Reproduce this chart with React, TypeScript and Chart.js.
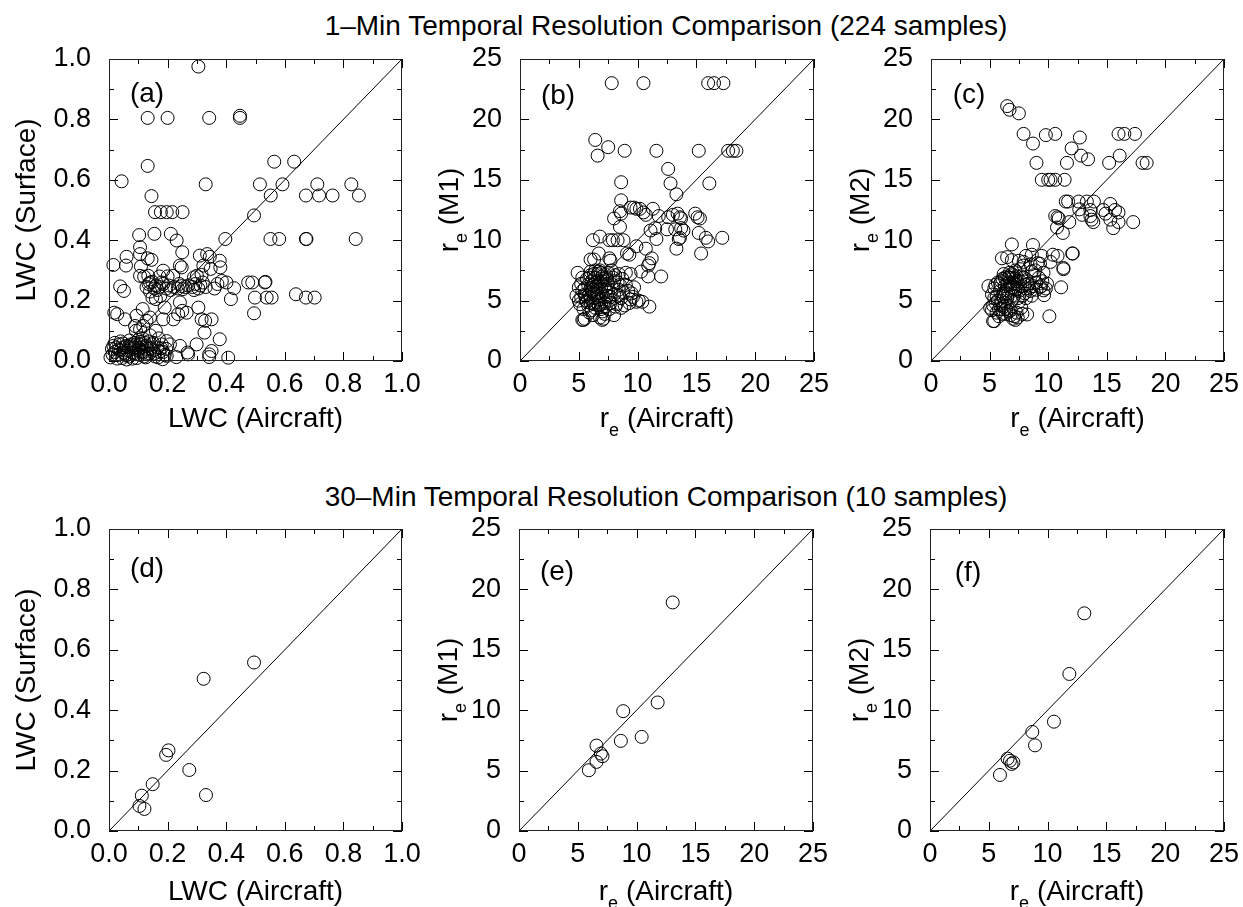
import React, { useEffect, useRef } from 'react';
import { Chart, registerables } from 'chart.js';

Chart.register(...registerables);

const FONT = '"Liberation Sans", Arial, Helvetica, sans-serif';

// ---------- text ----------
const titleTop = '1–Min Temporal Resolution Comparison (224 samples)';
const titleBottom = '30–Min Temporal Resolution Comparison (10 samples)';
const panelLabels = ['(a)', '(b)', '(c)', '(d)', '(e)', '(f)'];

// ---------- tick labels ----------
const lwcMajor = [0, 0.2, 0.4, 0.6, 0.8, 1.0];
const lwcLabels = ['0.0', '0.2', '0.4', '0.6', '0.8', '1.0'];
const reMajor = [0, 5, 10, 15, 20, 25];
const reLabels = ['0', '5', '10', '15', '20', '25'];

// 1:1 reference lines
const diagLwc = [0, 1];
const diagRe = [0, 25];

// ---------- data: [aircraft, retrieved] ----------
const lwc1min: number[][] = [
  [0.305, 0.975], [0.132, 0.805], [0.2, 0.805], [0.342, 0.805], [0.447, 0.812], [0.447, 0.805],
  [0.132, 0.646], [0.043, 0.595], [0.33, 0.585], [0.564, 0.66], [0.632, 0.66], [0.515, 0.585],
  [0.592, 0.585], [0.711, 0.585], [0.827, 0.585], [0.552, 0.548], [0.672, 0.548], [0.717, 0.548],
  [0.763, 0.548], [0.853, 0.548], [0.145, 0.546], [0.157, 0.493], [0.177, 0.493], [0.197, 0.493],
  [0.216, 0.493], [0.251, 0.493], [0.495, 0.482], [0.397, 0.404], [0.551, 0.404], [0.581, 0.404],
  [0.672, 0.404], [0.674, 0.404], [0.842, 0.404], [0.103, 0.417], [0.155, 0.421], [0.211, 0.421],
  [0.231, 0.399], [0.25, 0.36], [0.106, 0.377], [0.106, 0.354], [0.06, 0.345], [0.015, 0.318],
  [0.058, 0.316], [0.109, 0.313], [0.132, 0.34], [0.145, 0.335], [0.31, 0.349], [0.335, 0.354],
  [0.344, 0.345], [0.378, 0.332], [0.38, 0.31], [0.347, 0.305], [0.322, 0.316], [0.3, 0.282],
  [0.316, 0.285], [0.29, 0.277], [0.242, 0.316], [0.248, 0.31], [0.219, 0.282], [0.185, 0.299],
  [0.172, 0.28], [0.2, 0.28], [0.106, 0.282], [0.12, 0.279], [0.134, 0.282], [0.401, 0.26],
  [0.427, 0.241], [0.416, 0.205], [0.475, 0.26], [0.489, 0.26], [0.532, 0.26], [0.534, 0.262],
  [0.498, 0.21], [0.538, 0.21], [0.555, 0.21], [0.638, 0.221], [0.672, 0.21], [0.702, 0.21],
  [0.495, 0.158], [0.038, 0.247], [0.051, 0.232], [0.018, 0.16], [0.028, 0.155], [0.055, 0.138],
  [0.094, 0.15], [0.115, 0.172], [0.14, 0.144], [0.128, 0.245], [0.135, 0.255], [0.14, 0.23],
  [0.148, 0.262], [0.155, 0.24], [0.16, 0.25], [0.172, 0.245], [0.185, 0.255], [0.195, 0.24],
  [0.205, 0.25], [0.222, 0.245], [0.235, 0.24], [0.24, 0.255], [0.248, 0.248], [0.252, 0.238],
  [0.27, 0.25], [0.285, 0.245], [0.295, 0.255], [0.305, 0.24], [0.312, 0.25], [0.33, 0.245],
  [0.36, 0.24], [0.37, 0.255], [0.385, 0.265], [0.148, 0.21], [0.16, 0.205], [0.175, 0.215],
  [0.19, 0.177], [0.185, 0.138], [0.22, 0.138], [0.242, 0.194], [0.236, 0.155], [0.25, 0.166],
  [0.265, 0.16], [0.305, 0.177], [0.316, 0.138], [0.328, 0.133], [0.35, 0.138], [0.326, 0.094],
  [0.378, 0.072], [0.299, 0.055], [0.268, 0.028], [0.27, 0.022], [0.242, 0.05], [0.23, 0.013],
  [0.197, 0.017], [0.183, 0.006], [0.342, 0.022], [0.35, 0.033], [0.342, 0.013], [0.407, 0.011],
  [0.208, 0.055], [0.197, 0.066], [0.106, 0.105], [0.117, 0.116], [0.128, 0.133], [0.089, 0.116],
  [0.092, 0.1], [0.16, 0.1], [0.17, 0.075], [0.14, 0.085], [0.005, 0.012], [0.01, 0.04],
  [0.015, 0.05], [0.02, 0.03], [0.025, 0.045], [0.03, 0.02], [0.035, 0.055], [0.04, 0.035],
  [0.045, 0.01], [0.05, 0.045], [0.055, 0.025], [0.06, 0.05], [0.065, 0.035], [0.07, 0.015],
  [0.075, 0.055], [0.08, 0.04], [0.085, 0.025], [0.088, 0.06], [0.092, 0.045], [0.095, 0.01],
  [0.1, 0.035], [0.105, 0.055], [0.108, 0.02], [0.112, 0.045], [0.118, 0.03], [0.122, 0.06],
  [0.125, 0.012], [0.13, 0.04], [0.138, 0.025], [0.145, 0.055], [0.15, 0.035], [0.158, 0.015],
  [0.165, 0.045], [0.172, 0.03], [0.18, 0.055], [0.19, 0.02], [0.195, 0.04], [0.06, 0.005],
  [0.08, 0.008], [0.1, 0.07], [0.07, 0.068], [0.04, 0.065], [0.02, 0.06], [0.115, 0.075],
  [0.135, 0.065], [0.05, 0.028], [0.085, 0.045], [0.11, 0.03], [0.13, 0.022], [0.15, 0.06],
  [0.012, 0.022], [0.028, 0.008], [0.033, 0.038], [0.048, 0.058], [0.058, 0.018], [0.068, 0.048],
  [0.078, 0.028], [0.09, 0.052], [0.098, 0.022], [0.103, 0.042], [0.113, 0.058], [0.12, 0.015],
  [0.128, 0.05], [0.142, 0.04], [0.155, 0.025], [0.168, 0.012], [0.178, 0.042], [0.185, 0.03],
  [0.14, 0.26], [0.165, 0.235], [0.18, 0.26], [0.21, 0.235], [0.26, 0.245], [0.29, 0.235], [0.32, 0.26],
];

const reM1_1min: number[][] = [
  [7.8, 23.0], [10.5, 23.0], [16.0, 23.0], [16.5, 23.0], [17.3, 23.0], [6.4, 18.3], [6.6, 17.0],
  [7.5, 17.7], [8.9, 17.4], [11.6, 17.4], [15.2, 17.4], [17.7, 17.4], [18.1, 17.4], [18.4, 17.4],
  [12.6, 15.9], [12.8, 14.7], [16.1, 14.7], [8.6, 14.8], [13.3, 13.8], [8.6, 13.3], [8.5, 12.4],
  [8.6, 12.2], [9.4, 12.7], [9.7, 12.7], [9.9, 12.6], [10.2, 12.6], [10.5, 12.3], [10.7, 12.1],
  [11.3, 12.6], [11.8, 12.0], [12.6, 11.9], [13.0, 12.1], [13.4, 12.2], [13.6, 11.9], [13.7, 11.8],
  [14.9, 12.2], [15.1, 11.9], [15.3, 11.8], [8.0, 11.8], [8.5, 11.1], [11.1, 10.8], [11.5, 11.0],
  [11.6, 10.1], [12.5, 10.9], [13.2, 10.9], [13.7, 11.0], [13.9, 10.8], [13.5, 10.1], [13.6, 10.2],
  [13.3, 9.3], [15.2, 10.6], [15.8, 10.2], [16.0, 9.9], [15.4, 8.9], [17.2, 10.2], [6.2, 10.0],
  [6.8, 10.3], [7.6, 10.0], [7.9, 10.0], [8.3, 10.0], [8.8, 10.0], [6.0, 8.4], [6.3, 8.4],
  [6.7, 8.9], [7.6, 8.5], [7.7, 8.3], [9.1, 8.9], [9.3, 8.8], [9.9, 9.5], [10.7, 9.3], [11.2, 8.5],
  [11.0, 8.1], [10.9, 7.9], [10.9, 7.0], [12.0, 7.0], [10.3, 7.4], [9.4, 7.2], [4.9, 7.3],
  [6.0, 7.4], [6.4, 7.5], [6.8, 7.5], [7.5, 7.3], [8.1, 7.1], [8.4, 7.2], [8.7, 6.8], [5.0, 6.1],
  [5.3, 5.8], [5.2, 5.3], [5.5, 6.0], [5.6, 5.0], [5.8, 6.3], [5.9, 5.5], [6.0, 4.8], [6.1, 6.6],
  [6.2, 5.9], [6.3, 5.2], [6.4, 6.9], [6.5, 6.2], [6.6, 5.6], [6.7, 4.6], [6.8, 6.5], [6.9, 5.9],
  [7.0, 7.0], [7.1, 5.3], [7.2, 6.2], [7.3, 4.5], [7.4, 6.7], [7.5, 5.7], [7.6, 5.0], [7.8, 6.1],
  [8.0, 5.5], [8.2, 4.7], [8.4, 5.9], [8.6, 5.2], [8.9, 4.6], [9.2, 5.8], [9.5, 5.6], [9.7, 6.1],
  [9.9, 4.9], [10.1, 5.0], [11.0, 4.5], [5.4, 4.3], [5.8, 4.6], [6.1, 4.2], [6.5, 4.9], [6.9, 4.3],
  [7.2, 3.9], [8.0, 3.8], [5.3, 3.4], [5.4, 3.4], [7.0, 3.4], [7.1, 3.5], [4.8, 5.4], [5.1, 4.7],
  [5.7, 6.8], [6.3, 7.2], [6.0, 5.3], [6.6, 6.0], [7.0, 6.6], [6.2, 6.3], [6.8, 5.1], [7.4, 5.4],
  [7.7, 4.8], [8.3, 6.5], [9.0, 6.3], [9.4, 5.1], [6.4, 4.4], [5.6, 5.4], [6.9, 7.3], [7.3, 6.9],
  [6.7, 7.4], [6.0, 6.0], [6.5, 5.3], [5.2, 6.4], [5.5, 5.5], [5.7, 4.9], [5.9, 6.9], [6.1, 5.7],
  [6.3, 4.7], [6.4, 6.5], [6.6, 7.2], [6.7, 5.4], [6.9, 6.1], [7.1, 6.8], [7.2, 4.8], [7.3, 5.9],
  [7.5, 6.4], [7.7, 5.3], [7.9, 6.9], [8.1, 4.5], [8.3, 5.4], [8.5, 6.3], [8.8, 5.7], [9.3, 4.8],
  [9.6, 5.3], [10.4, 4.9], [5.5, 3.5], [6.8, 3.6], [7.0, 4.1], [5.9, 4.0], [6.2, 3.8], [7.6, 4.3],
  [8.6, 4.4], [5.0, 5.0], [5.3, 6.9], [6.0, 7.1], [6.6, 6.6], [7.2, 7.2], [7.8, 7.5], [8.0, 6.6],
  [9.0, 7.3], [6.3, 5.6], [6.9, 4.7],
];

const reM2_1min: number[][] = [
  [6.5, 21.1], [6.7, 20.8], [7.5, 20.5], [7.9, 18.8], [8.7, 18.0], [9.0, 16.4], [9.8, 18.7],
  [10.6, 18.8], [12.7, 18.5], [12.0, 17.6], [12.8, 17.0], [13.4, 16.7], [11.6, 16.4], [9.45, 15.0],
  [10.0, 15.0], [10.2, 15.0], [10.6, 15.0], [11.4, 15.0], [11.5, 13.2], [11.7, 13.2], [12.6, 13.2],
  [13.3, 13.2], [13.9, 13.2], [12.65, 12.55], [12.9, 12.1], [13.6, 12.5], [13.6, 12.0], [13.7, 11.7],
  [13.85, 11.5], [14.7, 12.5], [14.9, 12.2], [15.3, 13.0], [15.7, 12.5], [16.0, 12.3], [15.3, 11.7],
  [15.55, 11.0], [16.0, 11.5], [17.25, 11.5], [15.2, 16.4], [16.1, 17.0], [16.0, 18.8], [16.5, 18.8],
  [17.4, 18.8], [18.05, 16.4], [18.4, 16.4], [10.6, 12.0], [10.8, 11.9], [10.9, 11.8], [10.75, 11.05],
  [11.25, 10.6], [11.8, 11.5], [6.9, 9.65], [6.05, 8.5], [6.9, 8.35], [7.9, 7.9], [8.1, 8.7],
  [8.6, 8.8], [8.7, 9.6], [9.45, 8.7], [9.3, 8.05], [10.4, 8.8], [10.8, 8.7], [12.1, 8.9],
  [12.05, 8.9], [11.3, 7.6], [11.3, 7.7], [11.1, 6.1], [10.1, 3.7], [4.9, 6.2], [5.05, 4.4],
  [5.3, 3.3], [5.4, 3.3], [7.0, 3.5], [7.2, 3.4], [7.8, 3.9], [8.2, 3.85], [9.65, 5.45], [9.6, 5.85],
  [5.2, 5.5], [5.4, 6.0], [5.5, 4.8], [5.6, 5.3], [5.7, 6.5], [5.8, 4.3], [5.9, 5.8], [6.0, 5.0],
  [6.1, 6.8], [6.2, 4.5], [6.3, 6.2], [6.4, 5.6], [6.5, 7.0], [6.6, 4.1], [6.7, 6.5], [6.8, 5.9],
  [6.9, 7.2], [7.0, 6.1], [7.1, 5.4], [7.2, 6.8], [7.3, 4.0], [7.4, 6.4], [7.5, 5.8], [7.7, 7.0],
  [7.8, 6.2], [8.0, 5.6], [8.2, 6.6], [8.4, 6.0], [8.6, 5.4], [8.8, 7.1], [9.0, 6.5], [9.2, 6.9],
  [9.4, 6.2], [9.6, 7.3], [9.8, 6.0], [7.6, 7.6], [7.9, 8.2], [8.5, 8.0], [9.1, 8.1], [8.9, 7.5],
  [6.0, 4.3], [6.4, 3.9], [6.8, 4.2], [5.6, 4.0], [5.8, 3.7], [7.1, 3.7], [6.3, 4.8], [6.9, 5.0],
  [7.5, 4.9], [8.1, 5.2], [7.2, 7.5], [6.6, 6.9], [6.2, 7.2], [7.0, 6.9], [7.3, 6.6], [6.7, 7.3],
  [6.1, 5.4], [5.9, 6.4], [6.5, 5.2], [7.4, 5.2], [5.3, 4.6], [5.5, 6.3], [5.7, 5.0], [5.9, 4.6],
  [6.0, 6.6], [6.2, 5.3], [6.3, 6.9], [6.4, 4.3], [6.5, 6.4], [6.6, 5.6], [6.7, 6.9], [6.8, 6.3],
  [6.9, 5.4], [7.0, 7.1], [7.1, 6.4], [7.2, 5.9], [7.3, 7.0], [7.4, 6.0], [7.6, 6.6], [7.8, 5.4],
  [7.9, 6.9], [8.1, 6.0], [8.3, 6.4], [8.5, 5.8], [8.7, 6.2], [9.0, 5.9], [9.3, 6.1], [9.5, 6.6],
  [7.7, 4.4], [6.1, 3.9], [5.4, 5.2], [5.2, 4.2], [6.8, 3.8], [7.4, 3.6], [8.0, 6.3], [8.6, 7.4],
  [9.9, 6.4], [10.2, 8.2], [7.5, 8.3], [6.5, 8.6],
];

const lwc30min: number[][] = [
  [0.495, 0.558], [0.323, 0.504], [0.203, 0.267], [0.195, 0.252], [0.274, 0.202],
  [0.149, 0.155], [0.112, 0.117], [0.104, 0.083], [0.121, 0.073], [0.331, 0.119],
];

const reM1_30min: number[][] = [
  [13.07, 18.92], [11.79, 10.64], [8.86, 9.92], [8.66, 7.46], [10.43, 7.79],
  [6.59, 7.07], [6.96, 6.41], [7.1, 6.19], [6.59, 5.72], [5.94, 5.03],
];

const reM2_30min: number[][] = [
  [13.12, 18.02], [11.85, 13.0], [10.54, 9.05], [8.7, 8.2], [8.93, 7.09],
  [6.6, 5.99], [6.94, 5.55], [7.09, 5.68], [6.8, 5.82], [5.95, 4.64],
];

// ---------- layout ----------
type Seg = { t: string; sub?: boolean };
const lwcAir: Seg[] = [{ t: 'LWC (Aircraft)' }];
const lwcSurf: Seg[] = [{ t: 'LWC (Surface)' }];
const reAir: Seg[] = [{ t: 'r' }, { t: 'e', sub: true }, { t: ' (Aircraft)' }];
const reM1: Seg[] = [{ t: 'r' }, { t: 'e', sub: true }, { t: ' (M1)' }];
const reM2: Seg[] = [{ t: 'r' }, { t: 'e', sub: true }, { t: ' (M2)' }];

interface PanelDef {
  label: string;
  pts: number[][];
  diag: number[];
  major: number[];
  majorLabels: string[];
  step: number;
  max: number;
  xTitle: Seg[];
  yTitle: Seg[];
  canvas: { left: number; top: number; width: number; height: number };
  area: { left: number; top: number; right: number; bottom: number };
  yTitleDx: number;
  xTitleDy: number;
  labelDy: number;
}

const TOP_C = { top: 0, height: 460 };
const BOT_C = { top: 460, height: 447 };

const panels: PanelDef[] = [
  {
    label: panelLabels[0], pts: lwc1min, diag: diagLwc, major: lwcMajor, majorLabels: lwcLabels, step: 0.1, max: 1,
    xTitle: lwcAir, yTitle: lwcSurf,
    canvas: { left: 0, width: 420, ...TOP_C }, area: { left: 109, top: 59, right: 402, bottom: 361 },
    yTitleDx: -84, xTitleDy: 56, labelDy: 33,
  },
  {
    label: panelLabels[1], pts: reM1_1min, diag: diagRe, major: reMajor, majorLabels: reLabels, step: 2.5, max: 25,
    xTitle: reAir, yTitle: reM1,
    canvas: { left: 420, width: 410, ...TOP_C }, area: { left: 520, top: 59, right: 814, bottom: 361 },
    yTitleDx: -72, xTitleDy: 56, labelDy: 35,
  },
  {
    label: panelLabels[2], pts: reM2_1min, diag: diagRe, major: reMajor, majorLabels: reLabels, step: 2.5, max: 25,
    xTitle: reAir, yTitle: reM2,
    canvas: { left: 830, width: 413, ...TOP_C }, area: { left: 931, top: 59, right: 1224, bottom: 361 },
    yTitleDx: -72, xTitleDy: 56, labelDy: 34,
  },
  {
    label: panelLabels[3], pts: lwc30min, diag: diagLwc, major: lwcMajor, majorLabels: lwcLabels, step: 0.1, max: 1,
    xTitle: lwcAir, yTitle: lwcSurf,
    canvas: { left: 0, width: 420, ...BOT_C }, area: { left: 109, top: 529, right: 402, bottom: 831 },
    yTitleDx: -84, xTitleDy: 59, labelDy: 38,
  },
  {
    label: panelLabels[4], pts: reM1_30min, diag: diagRe, major: reMajor, majorLabels: reLabels, step: 2.5, max: 25,
    xTitle: reAir, yTitle: reM1,
    canvas: { left: 420, width: 410, ...BOT_C }, area: { left: 519, top: 529, right: 813, bottom: 831 },
    yTitleDx: -72, xTitleDy: 59, labelDy: 41,
  },
  {
    label: panelLabels[5], pts: reM2_30min, diag: diagRe, major: reMajor, majorLabels: reLabels, step: 2.5, max: 25,
    xTitle: reAir, yTitle: reM2,
    canvas: { left: 830, width: 413, ...BOT_C }, area: { left: 930, top: 529, right: 1224, bottom: 831 },
    yTitleDx: -72, xTitleDy: 59, labelDy: 42,
  },
];

const TICK_SIZE = 27;
const TITLE_SIZE = 28;
const SUB_SIZE = 18;

function drawRich(ctx: CanvasRenderingContext2D, segs: Seg[], cx: number, cy: number, rotate: boolean) {
  ctx.save();
  ctx.translate(cx, cy);
  if (rotate) ctx.rotate(-Math.PI / 2);
  ctx.fillStyle = '#000';
  ctx.textBaseline = 'alphabetic';
  ctx.textAlign = 'left';
  const widths = segs.map((s) => {
    ctx.font = `${s.sub ? SUB_SIZE : TITLE_SIZE}px ${FONT}`;
    return ctx.measureText(s.t).width;
  });
  const total = widths.reduce((a, b) => a + b, 0);
  let x = -total / 2;
  const base = TITLE_SIZE * 0.36;
  segs.forEach((s, i) => {
    ctx.font = `${s.sub ? SUB_SIZE : TITLE_SIZE}px ${FONT}`;
    ctx.fillText(s.t, x, base + (s.sub ? 9 : 0));
    x += widths[i];
  });
  ctx.restore();
}

function makeDeco(p: PanelDef) {
  return {
    id: 'deco',
    afterDraw(chart: any) {
      const { ctx, chartArea: a } = chart;
      const sx = chart.scales.x;
      const sy = chart.scales.y;
      ctx.save();
      ctx.strokeStyle = '#000';
      ctx.lineWidth = 1;
      ctx.beginPath();
      for (const t of sx.ticks) {
        const px = Math.round(sx.getPixelForValue(t.value)) + 0.5;
        const len = t.label ? 9 : 5;
        ctx.moveTo(px, a.bottom);
        ctx.lineTo(px, a.bottom - len);
        ctx.moveTo(px, a.top);
        ctx.lineTo(px, a.top + len);
      }
      for (const t of sy.ticks) {
        const py = Math.round(sy.getPixelForValue(t.value)) + 0.5;
        const len = t.label ? 9 : 5;
        ctx.moveTo(a.left, py);
        ctx.lineTo(a.left + len, py);
        ctx.moveTo(a.right, py);
        ctx.lineTo(a.right - len, py);
      }
      ctx.stroke();
      ctx.strokeStyle = '#222';
      ctx.strokeRect(a.left + 0.5, a.top + 0.5, a.right - a.left - 1, a.bottom - a.top - 1);
      ctx.restore();

      drawRich(ctx, p.xTitle, (a.left + a.right) / 2, a.bottom + p.xTitleDy, false);
      drawRich(ctx, p.yTitle, a.left + p.yTitleDx, (a.top + a.bottom) / 2, true);
      drawRich(ctx, [{ t: p.label }], a.left + 38, a.top + p.labelDy, false);
    },
  };
}

function tickFmt(p: PanelDef) {
  return (value: number) => {
    const i = p.major.findIndex((m) => Math.abs(m - value) < 1e-6);
    return i >= 0 ? p.majorLabels[i] : '';
  };
}

export default function App() {
  const refs = useRef<(HTMLCanvasElement | null)[]>([]);

  useEffect(() => {
    Chart.defaults.font.family = FONT;
    const charts = panels.map((p, idx) => {
      const canvas = refs.current[idx]!;
      const padTop = p.area.top - p.canvas.top;
      const padRight = p.canvas.left + p.canvas.width - p.area.right;
      const yW = p.area.left - p.canvas.left;
      const xH = p.canvas.top + p.canvas.height - p.area.bottom;
      const tickFont = { family: FONT, size: TICK_SIZE };
      return new Chart(canvas, {
        type: 'scatter',
        data: {
          datasets: [
            {
              data: p.pts.map((d) => ({ x: d[0], y: d[1] })),
              pointRadius: 6.5,
              pointHoverRadius: 6.5,
              pointBorderWidth: 1,
              borderColor: '#000',
              backgroundColor: 'rgba(0,0,0,0)',
              pointStyle: 'circle',
              showLine: false,
              clip: false as any,
            },
            {
              data: p.diag.map((v) => ({ x: v, y: v })),
              showLine: true,
              pointRadius: 0,
              borderColor: '#000',
              borderWidth: 1,
              fill: false,
            },
          ],
        },
        options: {
          responsive: false,
          animation: false,
          events: [],
          layout: { padding: { top: padTop, right: padRight, left: 0, bottom: 0 } },
          plugins: { legend: { display: false }, tooltip: { enabled: false }, title: { display: false } },
          scales: {
            x: {
              type: 'linear',
              position: 'bottom',
              min: 0,
              max: p.max,
              ticks: {
                stepSize: p.step,
                autoSkip: false,
                maxRotation: 0,
                minRotation: 0,
                padding: 7,
                color: '#000',
                font: tickFont,
                callback: tickFmt(p) as any,
              },
              grid: { display: false, drawTicks: false },
              border: { display: false },
              afterFit: (s: any) => {
                s.height = xH;
                s.paddingLeft = 0;
                s.paddingRight = 0;
              },
            },
            y: {
              type: 'linear',
              position: 'left',
              min: 0,
              max: p.max,
              ticks: {
                stepSize: p.step,
                autoSkip: false,
                padding: 18,
                color: '#000',
                font: tickFont,
                callback: tickFmt(p) as any,
              },
              grid: { display: false, drawTicks: false },
              border: { display: false },
              afterFit: (s: any) => {
                s.width = yW;
                s.paddingTop = 0;
                s.paddingBottom = 0;
              },
            },
          },
        },
        plugins: [makeDeco(p)],
      });
    });
    return () => charts.forEach((c) => c.destroy());
  }, []);

  const titleStyle = (cy: number): React.CSSProperties => ({
    position: 'absolute',
    left: 666,
    top: cy - 16,
    transform: 'translateX(-50%)',
    whiteSpace: 'nowrap',
    font: `${TITLE_SIZE}px ${FONT}`,
    lineHeight: '32px',
    color: '#000',
  });

  return (
    <div style={{ position: 'absolute', left: 0, top: 0, width: 1243, height: 907, background: '#fff', overflow: 'hidden' }}>
      <div style={titleStyle(26)}>{titleTop}</div>
      <div style={titleStyle(497)}>{titleBottom}</div>
      {panels.map((p, i) => (
        <canvas
          key={i}
          ref={(el) => {
            refs.current[i] = el;
          }}
          width={p.canvas.width}
          height={p.canvas.height}
          style={{ position: 'absolute', left: p.canvas.left, top: p.canvas.top, width: p.canvas.width, height: p.canvas.height }}
        />
      ))}
    </div>
  );
}
